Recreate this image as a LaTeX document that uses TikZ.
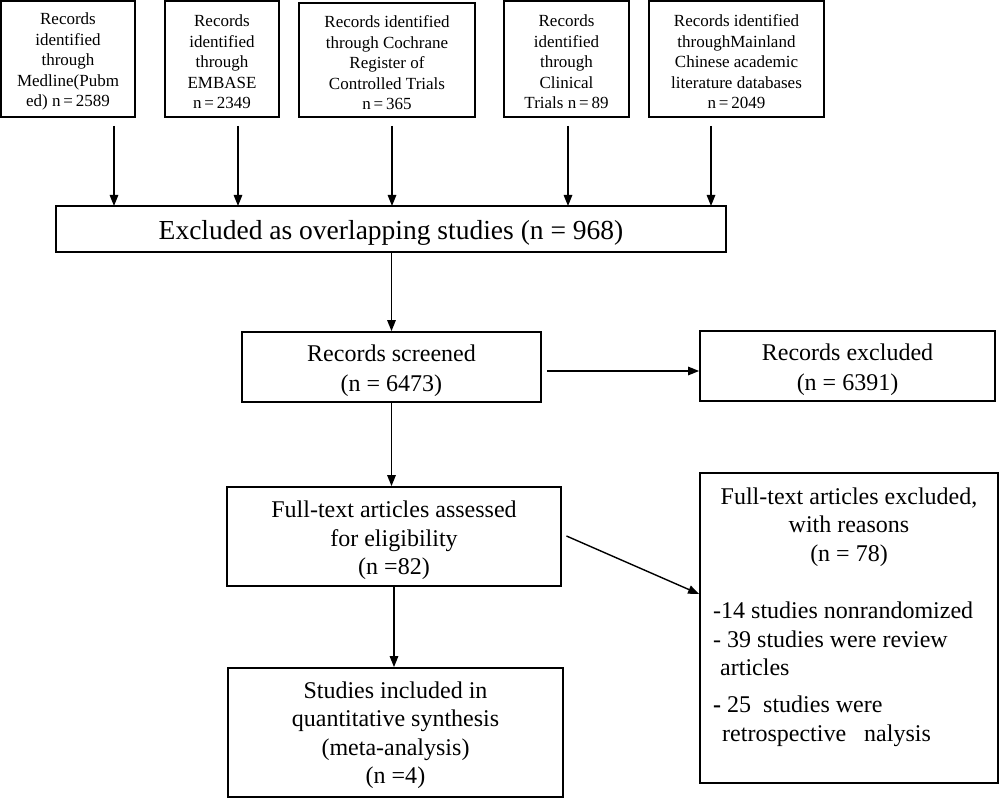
\documentclass[tikz,border=0pt]{standalone}
\usepackage{fontspec}
\setmainfont{Liberation Serif}
\usetikzlibrary{arrows.meta}
\newcommand{\tstrut}[1]{\rule{0pt}{#1}}
\tikzset{
  box/.style={draw, line width=1.8pt, inner sep=0pt, align=center},
  topbox/.style={box, font=\fontsize{17}{20.5}\selectfont},
  midbox/.style={box, font=\fontsize{24}{28.5}\selectfont},
  arr/.style={line width=1.4pt, -{Triangle[length=11pt,width=8.5pt]}},
  txt/.style={font=\fontsize{24}{28.5}\selectfont},
}
\begin{document}
\begin{tikzpicture}[x=1pt,y=-1pt]
\useasboundingbox (0,0) rectangle (1000,799);
% top source boxes
\node[topbox, minimum width=134pt, minimum height=116pt] (b1) at (68,59) {\tstrut{17.5pt}Records\\identified\\through\\Medline(Pubm\\ed) n\,=\,2589};
\node[topbox, minimum width=114pt, minimum height=116pt] (b2) at (222,59) {\tstrut{17.5pt}Records\\identified\\through\\EMBASE\\n\,=\,2349};
\node[topbox, minimum width=176pt, minimum height=114pt] (b3) at (387,60) {\tstrut{17.5pt}Records identified\\through Cochrane\\Register of\\Controlled Trials\\n\,=\,365};
\node[topbox, minimum width=125pt, minimum height=116pt] (b4) at (566.5,59) {\tstrut{17.5pt}Records\\identified\\through\\Clinical\\Trials n\,=\,89};
\node[topbox, minimum width=175pt, minimum height=116pt] (b5) at (736.5,59) {\tstrut{17.5pt}Records identified\\throughMainland\\Chinese academic\\literature databases\\n\,=\,2049};
% overlap box
\node[box, font=\fontsize{27.5}{30}\selectfont, minimum width=670pt, minimum height=46pt] (ov) at (391,229) {\tstrut{27pt}Excluded as overlapping studies (n = 968)};
\coordinate (a1) at (114,206);
\coordinate (a2) at (238,206);
\coordinate (a3) at (392,206);
\coordinate (a4) at (568,206);
\coordinate (a5) at (711,206);
\foreach \i in {1,...,5}{
  \draw[arr, shorten <=8pt] (b\i.south -| a\i) -- (a\i);
}
% screening
\node[midbox, font=\fontsize{24}{30}\selectfont, minimum width=299pt, minimum height=70pt] (sc) at (391.5,367) {\tstrut{24pt}Records screened\\(n = 6473)};
\node[midbox, font=\fontsize{24}{30}\selectfont, minimum width=295pt, minimum height=70pt] (ex) at (847.5,366) {\tstrut{24pt}Records excluded\\(n = 6391)};
\node[midbox, minimum width=334pt, minimum height=99pt] (ft) at (394,536.5) {\tstrut{24.5pt}Full-text articles assessed\\for eligibility\\(n =82)};
\node[midbox, minimum width=335pt, minimum height=129pt] (st) at (395.5,732.5) {\tstrut{22.5pt}Studies included in\\quantitative synthesis\\(meta-analysis)\\(n =4)};
\node[box, minimum width=298pt, minimum height=310pt] (fx) at (849,628) {};
\node[txt, align=center] (fxh) at (849,527) {Full-text articles excluded,\\with reasons\\(n = 78)};
\node[txt, align=left, anchor=west, inner sep=0pt] (fxl) at (713,674.5) {-14 studies nonrandomized\\- 39 studies were review\\\hspace*{7pt}articles\\[8.5pt]\textbf{-}\ 25\ \ studies were\\\hspace*{9pt}retrospective\ \ \ nalysis};
% connectors
\draw[arr] (ov.south -| sc.north) -- (sc.north);
\draw[arr, shorten <=5pt] ([yshift=-4pt]sc.east) -- ([yshift=-4pt]sc.east -| ex.west);
\draw[arr] (sc.south) -- (sc.south |- ft.north);
\draw[arr, shorten <=5pt] ([yshift=2.5pt]ft.east) -- ([yshift=34pt]fx.west);
\draw[arr] (ft.south) -- (ft.south |- st.north);
\end{tikzpicture}
\end{document}
